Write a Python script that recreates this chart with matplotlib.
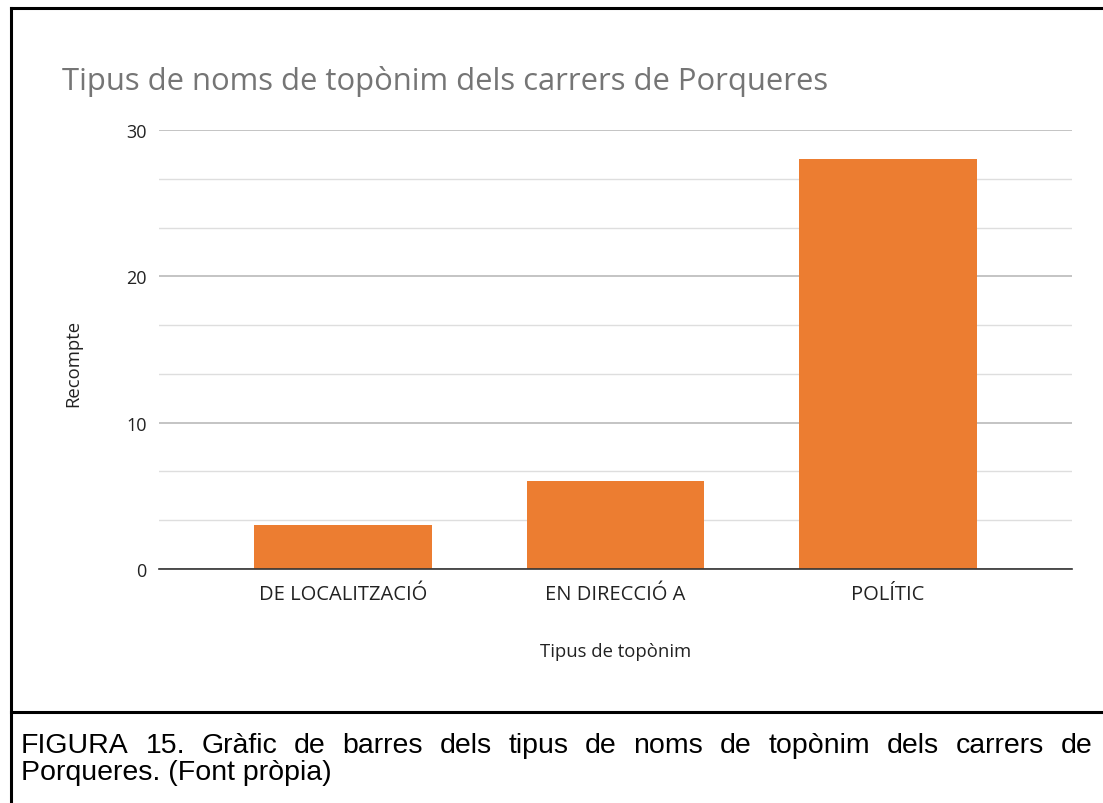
import numpy as np
import matplotlib
matplotlib.use("Agg")
import matplotlib.pyplot as plt
from matplotlib.lines import Line2D

# dades
categories = ['DE LOCALITZACIÓ', 'EN DIRECCIÓ A', 'POLÍTIC']
recompte = [3, 6, 28]
major_ticks = [0, 10, 20, 30]

titol = 'Tipus de noms de topònim dels carrers de Porqueres'
xlabel = 'Tipus de topònim'
ylabel = 'Recompte'
caption1 = 'FIGURA 15. Gràfic de barres dels tipus de noms de topònim dels carrers de'
caption2 = 'Porqueres. (Font pròpia)'

W, H = 1103, 804
fig = plt.figure(figsize=(W / 100, H / 100), dpi=100)
plt.rcParams['font.family'] = ['Open Sans', 'DejaVu Sans']

def fx(px):
    return px / W

def fy(py):
    return 1 - py / H

# eixos
ax = fig.add_axes([fx(159), fy(570), fx(1072) - fx(159), fy(131) - fy(570)])
x = np.arange(len(categories))
ax.bar(x, recompte, width=0.65, color='#ec7d31', zorder=3)
ax.set_xlim(-0.675, len(categories) - 1 + 0.675)
ax.set_ylim(0, 30)

ax.set_yticks(major_ticks)
ax.set_yticks(np.arange(0, 30.01, 10 / 3), minor=True)
ax.set_xticks(x)
ax.set_xticklabels(categories, fontsize=14.5, color='#222222')
ax.tick_params(axis='x', length=0, pad=11)
ax.tick_params(axis='y', which='both', length=0, pad=9, labelsize=13, labelcolor='#222222')
ax.grid(axis='y', which='major', color='#b4b4b4', lw=1.1, zorder=0)
ax.grid(axis='y', which='minor', color='#dedede', lw=1.0, zorder=0)
for s in ['top', 'right', 'left']:
    ax.spines[s].set_visible(False)
ax.spines['bottom'].set_color('#333333')
ax.spines['bottom'].set_linewidth(1.2)
ax.spines['bottom'].set_zorder(4)

fig.text(fx(62), fy(90), titol, fontsize=22.3, color='#757575', va='baseline', ha='left')
fig.text(fx(616), fy(652), xlabel, fontsize=13.3, color='#222222', ha='center', va='center')
fig.text(fx(73), fy(363), ylabel, fontsize=13.3, color='#222222', ha='center', va='center',
         rotation=90)

# marc
lw = 2.2
fig.add_artist(Line2D([fx(11), fx(11)], [0, fy(9)], color='black', lw=lw))
fig.add_artist(Line2D([fx(11), 1], [fy(9), fy(9)], color='black', lw=lw))
fig.add_artist(Line2D([fx(11), 1], [fy(713), fy(713)], color='black', lw=lw))

# peu de figura, justificat
cap_font = dict(fontsize=20.5, family='Liberation Sans', color='black', va='baseline')
renderer = fig.canvas.get_renderer()
words = caption1.split(' ')
arts = [fig.text(0, 0, w, **cap_font) for w in words]
widths = [a.get_window_extent(renderer).width for a in arts]
left, right = 21, 1092
gap = (right - left - sum(widths)) / (len(words) - 1)
pos = left
for a, w in zip(arts, widths):
    a.set_position((fx(pos), fy(753)))
    pos += w + gap
fig.text(fx(left), fy(780), caption2, **cap_font)

fig.savefig('out.png', dpi=100)
